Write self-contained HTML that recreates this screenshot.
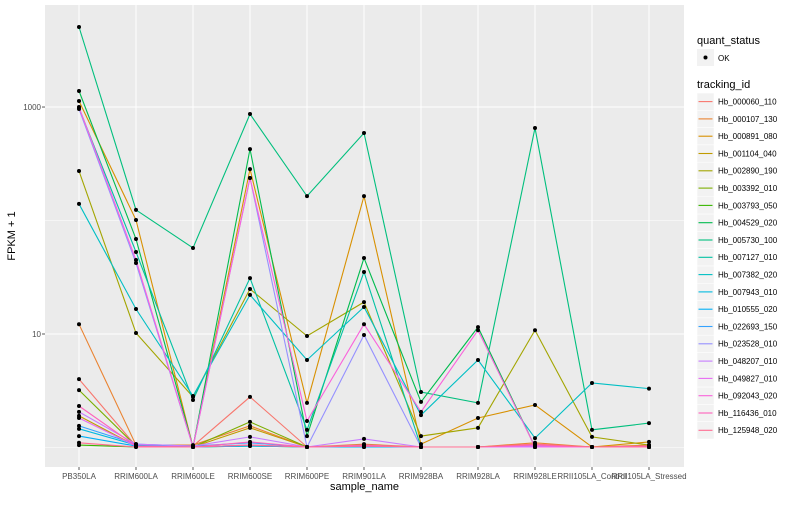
<!DOCTYPE html>
<html><head><meta charset="utf-8"><style>
body{margin:0;background:#fff;}
svg{font-family:"Liberation Sans",sans-serif;}
</style></head><body>
<svg id="chart" width="800" height="500" xmlns="http://www.w3.org/2000/svg">
<rect width="800" height="500" fill="#fff"/>
<g id="plot"></g>
</svg>
<script>
const categories=["PB350LA","RRIM600LA","RRIM600LE","RRIM600SE","RRIM600PE","RRIM901LA","RRIM928BA","RRIM928LA","RRIM928LE","RRII105LA_Control","RRII105LA_Stressed"];
const seriesIds=["Hb_000060_110","Hb_000107_130","Hb_000891_080","Hb_001104_040","Hb_002890_190","Hb_003392_010","Hb_003793_050","Hb_004529_020","Hb_005730_100","Hb_007127_010","Hb_007382_020","Hb_007943_010","Hb_010555_020","Hb_022693_150","Hb_023528_010","Hb_048207_010","Hb_049827_010","Hb_092043_020","Hb_116436_010","Hb_125948_020"];
const seriesColors=["#F8766D","#EA8331","#D89000","#C09B00","#A3A500","#7CAE00","#39B600","#00BB4E","#00BF7D","#00C1A3","#00BFC4","#00BAE0","#00B0F6","#35A2FF","#9590FF","#C77CFF","#E76BF3","#FA62DB","#FF62BC","#FF6C91"];
const s0=[4.0,1.03,1.03,2.79,1.01,1.05,1.01,1.01,1.07,1.01,1.03];
const s1=[12.2,1.05,1.05,1.55,1.01,1.07,1.01,1.01,1.1,1.01,1.05];
const s2=[1130,101,1.01,284,2.47,164,1.07,1.82,2.37,1.01,1.12];
const s3=[1.9,1.03,1.01,1.49,1.01,1.03,1.01,1.01,1.05,1.01,1.03];
const s4=[273,10.2,2.79,24.9,9.6,19.1,1.26,1.49,10.8,1.24,1.05];
const s5=[3.2,1.03,1.01,1.68,1.01,1.05,1.01,1.01,1.03,1.01,1.01];
const s6=[1.05,1.01,1.01,1.03,1.01,1.01,1.01,1.01,1.01,1.01,1.01];
const s7=[1384,68.7,1.01,426,1.26,46.7,2.52,11.5,1.01,1.01,1.01];
const s8=[5070,124,57.3,867,164,590,3.08,2.47,653,1.43,1.64];
const s9=[980,52.8,2.62,31.1,1.43,35.2,1.01,1.01,1.01,1.01,1.01];
const s10=[140,16.6,2.84,22.1,5.9,17.3,1.93,5.9,1.21,3.7,3.3];
const s11=[1.46,1.05,1.01,1.05,1.01,1.01,1.01,1.01,1.01,1.01,1.01];
const s12=[1.26,1.03,1.01,1.03,1.01,1.01,1.01,1.01,1.01,1.01,1.01];
const s13=[1.55,1.07,1.03,1.1,1.01,1.03,1.01,1.01,1.03,1.01,1.01];
const s14=[960,42.2,1.01,237,1.01,9.8,1.01,1.01,1.01,1.01,1.01];
const s15=[2.06,1.07,1.03,1.24,1.01,1.19,1.01,1.01,1.03,1.01,1.01];
const s16=[1.82,1.03,1.01,1.05,1.01,1.03,1.01,1.01,1.01,1.01,1.01];
const s17=[1000,44.9,1.01,237,1.71,12.2,2.06,10.8,1.01,1.01,1.01];
const s18=[2.32,1.03,1.01,1.12,1.01,1.05,1.01,1.01,1.05,1.01,1.03];
const s19=[1.1,1.01,1.01,1.05,1.01,1.03,1.01,1.01,1.07,1.01,1.01];
const seriesValues=[s0,s1,s2,s3,s4,s5,s6,s7,s8,s9,s10,s11,s12,s13,s14,s15,s16,s17,s18,s19];
const yTickValues=[10,1000];
const yTickLabels=["10","1000"];
const yMinorValues=[1,100];

const NS="http://www.w3.org/2000/svg";
const P={l:45,r:684,t:5,b:467};
const LMIN=-0.172,LMAX=3.899;
function yScale(v){return P.b-(Math.log10(v)-LMIN)/(LMAX-LMIN)*(P.b-P.t);}
function xScale(i){return 79+i*57;}
const g=document.getElementById('plot');
function mk(tag,attrs,parent,text){const e=document.createElementNS(NS,tag);for(const k in attrs)e.setAttribute(k,attrs[k]);if(text!==undefined)e.textContent=text;(parent||g).appendChild(e);return e;}

const bg=mk('rect',{x:P.l,y:P.t,width:P.r-P.l,height:P.b-P.t,fill:'#EBEBEB'});


yMinorValues.forEach(v=>{const l=mk('line',{x1:P.l,x2:P.r,y1:yScale(v),y2:yScale(v),stroke:'#fff','stroke-width':0.5});

});
yTickValues.forEach((v,i)=>{const y=yScale(v);
const l=mk('line',{x1:P.l,x2:P.r,y1:y,y2:y,stroke:'#fff','stroke-width':1});


mk('line',{x1:P.l-3,x2:P.l,y1:y,y2:y,stroke:'#333','stroke-width':0.8});
const t=mk('text',{x:P.l-4,y:y+3,'text-anchor':'end','font-size':8,fill:'#4D4D4D'},g,yTickLabels[i]);

});
categories.forEach((c,i)=>{const x=xScale(i);
const l=mk('line',{x1:x,x2:x,y1:P.t,y2:P.b,stroke:'#fff','stroke-width':1});


mk('line',{x1:x,x2:x,y1:P.b,y2:P.b+3,stroke:'#333','stroke-width':0.8});
const t=mk('text',{x:x,y:P.b+12,'text-anchor':'middle','font-size':8,fill:'#4D4D4D'},g,c);

});
seriesValues.forEach((vals,si)=>{
const pts=vals.map((v,i)=>xScale(i)+','+yScale(v)).join(' ');
const pl=mk('polyline',{points:pts,fill:'none',stroke:seriesColors[si],'stroke-width':1.1});

});
seriesValues.forEach((vals,si)=>{vals.forEach((v,i)=>{
const c=mk('circle',{cx:xScale(i),cy:yScale(v),r:2,fill:'#000'});

});});
const xt=mk('text',{x:(P.l+P.r)/2,y:490,'text-anchor':'middle','font-size':11,fill:'#000'},g,'sample_name');


const yt=mk('text',{x:0,y:0,transform:'translate(15,'+((P.t+P.b)/2)+') rotate(-90)','text-anchor':'middle','font-size':11,fill:'#000'},g,'FPKM + 1');


// legend
const lt1=mk('text',{x:697,y:44,'font-size':11,fill:'#000'},g,'quant_status');


mk('rect',{x:697,y:49,width:17,height:17,fill:'#F2F2F2'});
mk('circle',{cx:705.5,cy:57.5,r:2,fill:'#000'});
const ok=mk('text',{x:718,y:61,'font-size':8,fill:'#000'},g,'OK');


const lt2=mk('text',{x:697,y:88,'font-size':11,fill:'#000'},g,'tracking_id');


seriesIds.forEach((id,i)=>{const y=93+i*17.3;
mk('rect',{x:697,y:y,width:17,height:17.3,fill:'#F2F2F2',stroke:'#fff','stroke-width':0.5});
mk('line',{x1:698.5,x2:712.5,y1:y+8.6,y2:y+8.6,stroke:seriesColors[i],'stroke-width':1.1});
const t=mk('text',{x:718,y:y+11.5,'font-size':8,fill:'#000'},g,id);

});
</script>
</body></html>
